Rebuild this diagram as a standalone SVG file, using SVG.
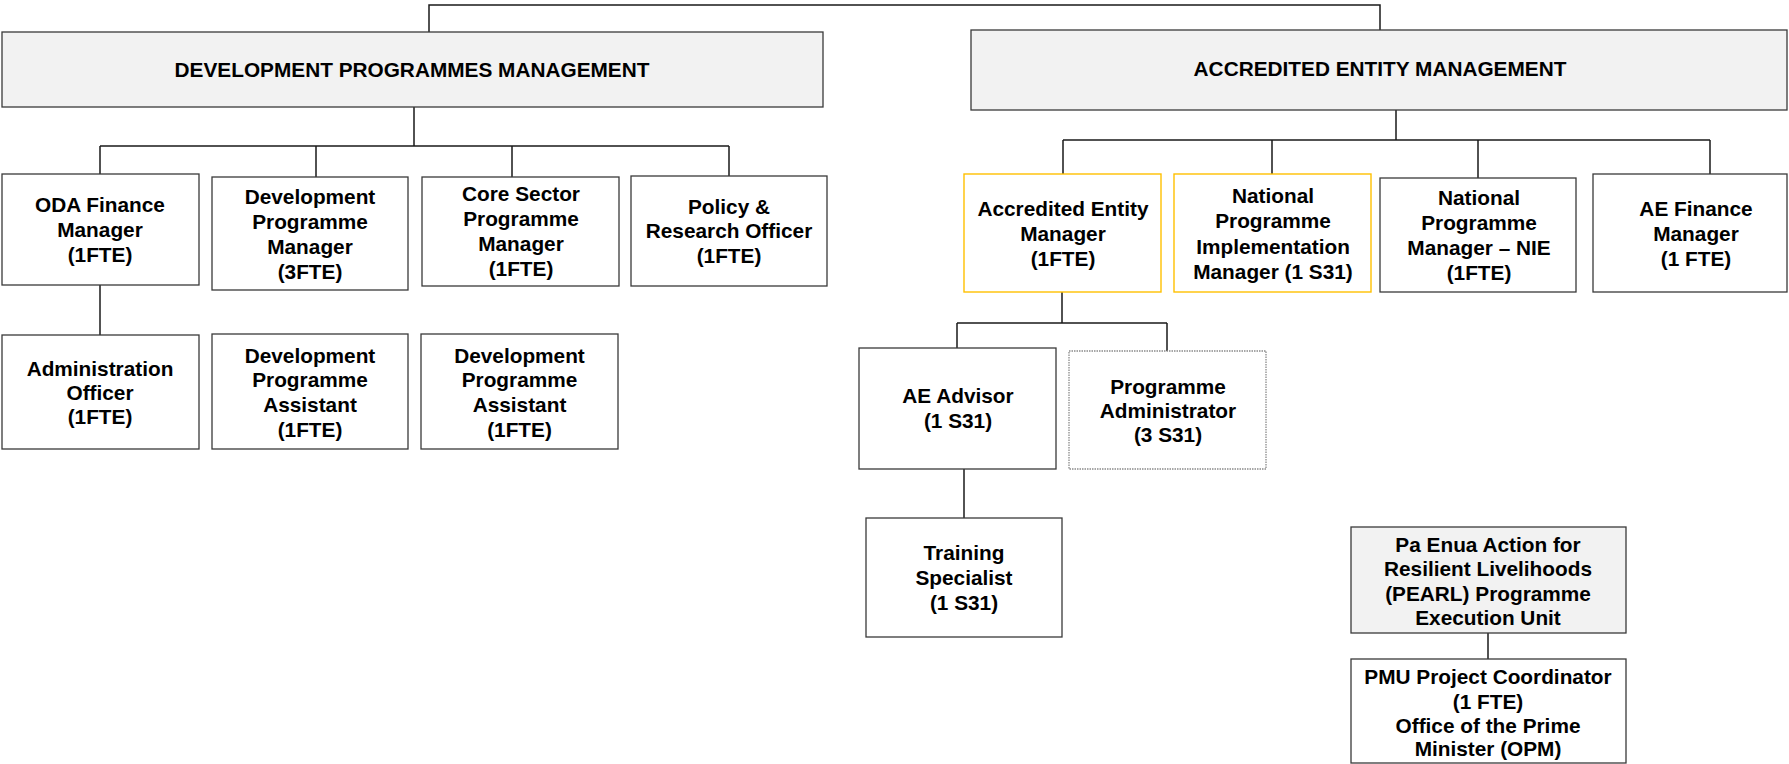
<svg xmlns="http://www.w3.org/2000/svg" width="1789" height="764" viewBox="0 0 1789 764">
  <style>
    .box { fill: #ffffff; stroke: #3a3a3a; stroke-width: 1.3; }
    .head { fill: #f2f2f2; stroke: #3a3a3a; stroke-width: 1.3; }
    .key { fill: #ffffff; stroke: #ffc000; stroke-width: 1.4; }
    .dot { fill: #ffffff; stroke: #8a8a8a; stroke-width: 1.3; stroke-dasharray: 1.5 1; }
    .lbl { font-family: "Liberation Sans", Arial, sans-serif; font-weight: bold; font-size: 20.8px; fill: #000000; text-anchor: middle; }
    .links path { fill: none; stroke: #1a1a1a; stroke-width: 1.5; }
  </style>

  <!-- reporting lines -->
  <g id="connectors" class="links">
    <path d="M429,32 V5 H1380 V30"/>
    <path d="M414,107 V146 M100,146 H729 M100,146 V174 M316,146 V177 M512,146 V177 M729,146 V176"/>
    <path d="M100,285 V335"/>
    <path d="M1396,110 V140 M1063,140 H1710 M1063,140 V174 M1272,140 V174 M1478,140 V178 M1710,140 V174"/>
    <path d="M1062,292 V323 M957,323 H1167 M957,323 V348 M1167,323 V351"/>
    <path d="M964,469 V518"/>
    <path d="M1488,633 V659"/>
  </g>

  <!-- section headers -->
  <g id="dev-programmes-management">
    <rect class="head" x="2" y="32" width="821" height="75"/>
    <text class="lbl" x="412" y="77">DEVELOPMENT PROGRAMMES MANAGEMENT</text>
  </g>
  <g id="accredited-entity-management">
    <rect class="head" x="971" y="30" width="816" height="80"/>
    <text class="lbl" x="1380" y="76">ACCREDITED ENTITY MANAGEMENT</text>
  </g>

  <!-- development programmes team -->
  <g id="oda-finance-manager">
    <rect class="box" x="2" y="174" width="197" height="111"/>
    <text class="lbl" x="100" y="212">ODA Finance</text>
    <text class="lbl" x="100" y="237">Manager</text>
    <text class="lbl" x="100" y="262">(1FTE)</text>
  </g>
  <g id="dev-programme-manager">
    <rect class="box" x="212" y="177" width="196" height="113"/>
    <text class="lbl" x="310" y="204">Development</text>
    <text class="lbl" x="310" y="229">Programme</text>
    <text class="lbl" x="310" y="254">Manager</text>
    <text class="lbl" x="310" y="279">(3FTE)</text>
  </g>
  <g id="core-sector-manager">
    <rect class="box" x="422" y="177" width="197" height="109"/>
    <text class="lbl" x="521" y="201">Core Sector</text>
    <text class="lbl" x="521" y="226">Programme</text>
    <text class="lbl" x="521" y="251">Manager</text>
    <text class="lbl" x="521" y="276">(1FTE)</text>
  </g>
  <g id="policy-research-officer">
    <rect class="box" x="631" y="176" width="196" height="110"/>
    <text class="lbl" x="729" y="214">Policy &amp;</text>
    <text class="lbl" x="729" y="238">Research Officer</text>
    <text class="lbl" x="729" y="263">(1FTE)</text>
  </g>
  <g id="administration-officer">
    <rect class="box" x="2" y="335" width="197" height="114"/>
    <text class="lbl" x="100" y="376">Administration</text>
    <text class="lbl" x="100" y="400">Officer</text>
    <text class="lbl" x="100" y="424">(1FTE)</text>
  </g>
  <g id="dev-programme-assistant-1">
    <rect class="box" x="212" y="334" width="196" height="115"/>
    <text class="lbl" x="310" y="363">Development</text>
    <text class="lbl" x="310" y="387">Programme</text>
    <text class="lbl" x="310" y="412">Assistant</text>
    <text class="lbl" x="310" y="437">(1FTE)</text>
  </g>
  <g id="dev-programme-assistant-2">
    <rect class="box" x="421" y="334" width="197" height="115"/>
    <text class="lbl" x="519.5" y="363">Development</text>
    <text class="lbl" x="519.5" y="387">Programme</text>
    <text class="lbl" x="519.5" y="412">Assistant</text>
    <text class="lbl" x="519.5" y="437">(1FTE)</text>
  </g>

  <!-- accredited entity team -->
  <g id="accredited-entity-manager">
    <rect class="key" x="964" y="174" width="197" height="118"/>
    <text class="lbl" x="1063" y="216">Accredited Entity</text>
    <text class="lbl" x="1063" y="241">Manager</text>
    <text class="lbl" x="1063" y="266">(1FTE)</text>
  </g>
  <g id="national-programme-implementation-manager">
    <rect class="key" x="1174" y="174" width="197" height="118"/>
    <text class="lbl" x="1273" y="203">National</text>
    <text class="lbl" x="1273" y="228">Programme</text>
    <text class="lbl" x="1273" y="254">Implementation</text>
    <text class="lbl" x="1273" y="279">Manager (1 S31)</text>
  </g>
  <g id="national-programme-manager-nie">
    <rect class="box" x="1380" y="178" width="196" height="114"/>
    <text class="lbl" x="1479" y="205">National</text>
    <text class="lbl" x="1479" y="230">Programme</text>
    <text class="lbl" x="1479" y="255">Manager – NIE</text>
    <text class="lbl" x="1479" y="280">(1FTE)</text>
  </g>
  <g id="ae-finance-manager">
    <rect class="box" x="1593" y="174" width="194" height="118"/>
    <text class="lbl" x="1696" y="216">AE Finance</text>
    <text class="lbl" x="1696" y="241">Manager</text>
    <text class="lbl" x="1696" y="266">(1 FTE)</text>
  </g>
  <g id="ae-advisor">
    <rect class="box" x="859" y="348" width="197" height="121"/>
    <text class="lbl" x="958" y="403">AE Advisor</text>
    <text class="lbl" x="958" y="428">(1 S31)</text>
  </g>
  <g id="programme-administrator">
    <rect class="dot" x="1069" y="351" width="197" height="118"/>
    <text class="lbl" x="1168" y="394">Programme</text>
    <text class="lbl" x="1168" y="418">Administrator</text>
    <text class="lbl" x="1168" y="442">(3 S31)</text>
  </g>
  <g id="training-specialist">
    <rect class="box" x="866" y="518" width="196" height="119"/>
    <text class="lbl" x="964" y="560">Training</text>
    <text class="lbl" x="964" y="585">Specialist</text>
    <text class="lbl" x="964" y="610">(1 S31)</text>
  </g>

  <!-- PEARL execution unit -->
  <g id="pearl-execution-unit">
    <rect class="head" x="1351" y="527" width="275" height="106"/>
    <text class="lbl" x="1488" y="552">Pa Enua Action for</text>
    <text class="lbl" x="1488" y="576">Resilient Livelihoods</text>
    <text class="lbl" x="1488" y="601">(PEARL) Programme</text>
    <text class="lbl" x="1488" y="625">Execution Unit</text>
  </g>
  <g id="pmu-project-coordinator">
    <rect class="box" x="1351" y="659" width="275" height="104"/>
    <text class="lbl" x="1488" y="684">PMU Project Coordinator</text>
    <text class="lbl" x="1488" y="709">(1 FTE)</text>
    <text class="lbl" x="1488" y="733">Office of the Prime</text>
    <text class="lbl" x="1488" y="756">Minister (OPM)</text>
  </g>
</svg>
